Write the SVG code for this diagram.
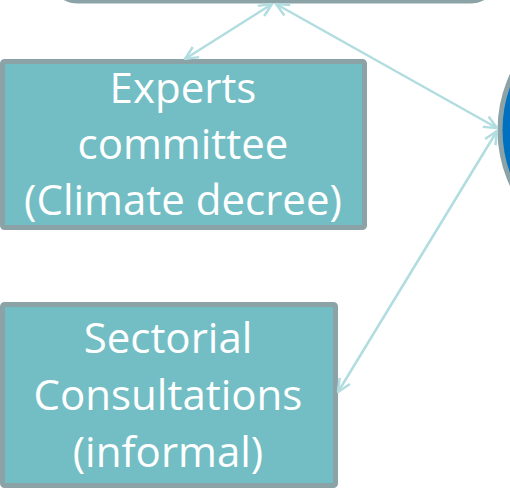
<svg xmlns="http://www.w3.org/2000/svg" width="510" height="491" viewBox="0 0 510 491">
<style>
.box{fill:#72bec4;stroke:#8ba3a6;stroke-width:5}
.lbl{font-family:"Open Sans","Noto Sans",sans-serif;font-size:42px;fill:#ffffff;text-anchor:middle}
.con{stroke:#b2dde0;stroke-width:2.5;fill:none;marker-start:url(#ah);marker-end:url(#ah)}
</style>
<defs>
<marker id="ah" viewBox="0 0 16 16" refX="15" refY="8" markerWidth="16" markerHeight="16" markerUnits="userSpaceOnUse" orient="auto-start-reverse">
<path d="M2,2 L15,8 L2,14" fill="none" stroke="#b2dde0" stroke-width="2.5"/>
</marker>
</defs>
<rect width="510" height="491" fill="#ffffff"/>
<g id="top-node">
<rect x="50" y="-60" width="448" height="61" rx="28" fill="#72bec4" stroke="#8ba3a6" stroke-width="5"/>
</g>
<g id="circle-node">
<circle cx="630" cy="130" r="130" fill="#0070c0" stroke="#8ba3a6" stroke-width="5"/>
</g>
<g id="experts">
<rect class="box" x="2.5" y="61.5" width="362" height="166" rx="2"/>
<text class="lbl" x="183" y="103">Experts</text>
<text class="lbl" x="183" y="159">committee</text>
<text class="lbl" x="183" y="215">(Climate decree)</text>
</g>
<g id="sectorial">
<rect class="box" x="2.5" y="304.5" width="333" height="181" rx="2"/>
<text class="lbl" x="168" y="353">Sectorial</text>
<text class="lbl" x="168" y="410">Consultations</text>
<text class="lbl" x="168" y="467">(informal)</text>
</g>
<g id="connectors">
<line class="con" x1="272" y1="4" x2="185" y2="59"/>
<line class="con" x1="276" y1="4" x2="497" y2="128"/>
<line class="con" x1="497" y1="131" x2="338" y2="392"/>
</g>
</svg>
